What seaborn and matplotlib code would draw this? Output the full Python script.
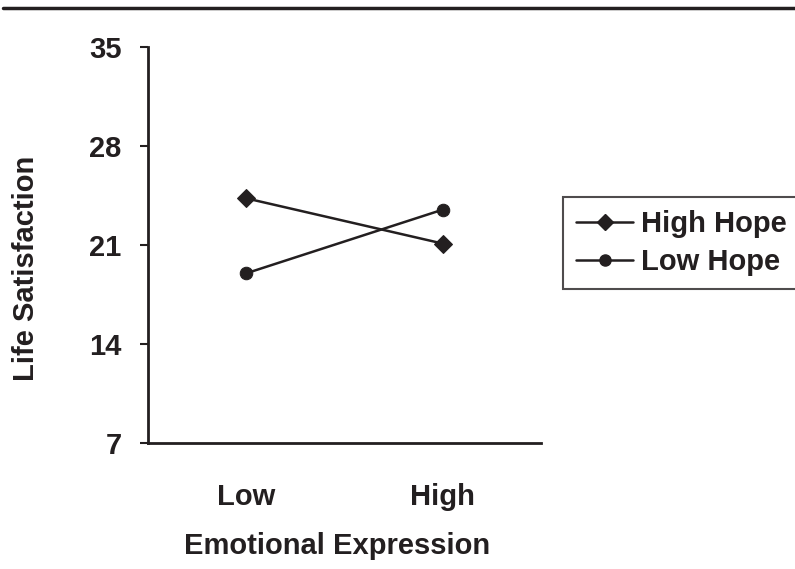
import matplotlib
matplotlib.use("Agg")
import matplotlib.pyplot as plt
import pandas as pd
import seaborn as sns
from matplotlib.lines import Line2D

# ── Data ──────────────────────────────────────────────────
expression = ["Low", "High"]
high_hope = [24.3, 21.1]
low_hope = [19.0, 23.5]
groups = ["High Hope", "Low Hope"]

df = pd.DataFrame({
    "Emotional Expression": expression * 2,
    "Life Satisfaction": high_hope + low_hope,
    "Group": [groups[0]] * 2 + [groups[1]] * 2,
})

INK = "#231f20"
FS = 21

sns.set_theme(style="white")
plt.rcParams["font.family"] = ["Liberation Sans", "DejaVu Sans"]
plt.rcParams["font.weight"] = "bold"

fig = plt.figure(figsize=(7.95, 5.69), dpi=100)
ax = fig.add_axes([148 / 795, 1 - 443 / 569, (541 - 148) / 795, (443 - 47) / 569])

sns.lineplot(data=df, x="Emotional Expression", y="Life Satisfaction",
             style="Group", markers={"High Hope": "D", "Low Hope": "o"},
             dashes=False, color=INK, linewidth=1.8,
             markersize=9, markeredgecolor=INK, ax=ax, legend=False)

ax.set_xlim(-0.5, 1.5)
ax.set_ylim(7, 35)
ax.set_yticks([7, 14, 21, 28, 35])
ax.tick_params(axis="y", left=True, length=6, width=1.5, color=INK,
               labelsize=FS, pad=13, labelcolor=INK)
ax.tick_params(axis="x", bottom=False, length=0, labelsize=FS, pad=28.5,
               labelcolor=INK)
for lbl in ax.get_xticklabels() + ax.get_yticklabels():
    lbl.set_fontweight("bold")
ax.set_xlabel("Emotional Expression", fontsize=FS, fontweight="bold",
              labelpad=15.5, color=INK)
ax.set_ylabel("Life Satisfaction", fontsize=FS, fontweight="bold",
              labelpad=35, color=INK)
ax.xaxis.label.set_x(0.481)
ax.yaxis.label.set_y(0.442)
sns.despine(ax=ax)
for s in ["left", "bottom"]:
    ax.spines[s].set_color(INK)
    ax.spines[s].set_linewidth(2)

# legend
handles = [
    Line2D([], [], color=INK, lw=1.8, marker="D", markersize=8),
    Line2D([], [], color=INK, lw=1.8, marker="o", markersize=8),
]
leg = fig.legend(handles, groups, loc="upper left",
                 bbox_to_anchor=(563 / 795, 1 - 197 / 569),
                 frameon=True, fancybox=False, edgecolor=INK,
                 prop={"size": FS, "weight": "bold"}, handlelength=1.95,
                 handletextpad=0.27, borderpad=0.45, labelspacing=0.35,
                 borderaxespad=0)
leg.get_frame().set_linewidth(1.5)
for t in leg.get_texts():
    t.set_color(INK)

# top rule
fig.add_artist(Line2D([0.004, 1], [1 - 8 / 569, 1 - 8 / 569],
                      transform=fig.transFigure, color=INK, lw=2.5))

fig.savefig("out.png", dpi=100, facecolor="white")
